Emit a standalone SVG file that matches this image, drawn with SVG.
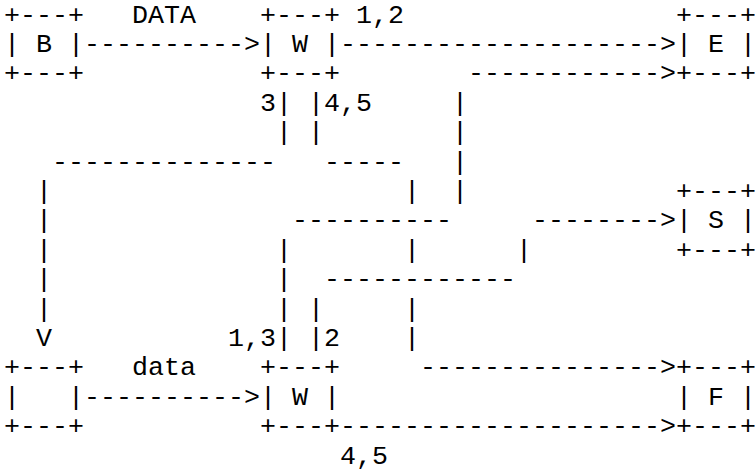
<svg xmlns="http://www.w3.org/2000/svg" width="755" height="473" viewBox="0 0 755 473" xml:space="preserve">
<style>
text{font-family:"Liberation Mono","DejaVu Sans Mono",monospace;font-size:26.67px;fill:#000;white-space:pre}
</style>
<rect x="0" y="0" width="755" height="473" fill="#fff"/>
<g id="node-B">
<text x="4" y="22.5">+---+</text>
<text x="4" y="51.9">| B |</text>
<text x="4" y="81.3">+---+</text>
</g>
<g id="node-W1">
<text x="260" y="22.5">+---+</text>
<text x="260" y="51.9">| W |</text>
<text x="260" y="81.3">+---+</text>
</g>
<g id="node-E">
<text x="676" y="22.5">+---+</text>
<text x="676" y="51.9">| E |</text>
<text x="676" y="81.3">+---+</text>
</g>
<g id="node-S">
<text x="676" y="198.9">+---+</text>
<text x="676" y="228.3">| S |</text>
<text x="676" y="257.7">+---+</text>
</g>
<g id="node-V">
<text x="4" y="375.3">+---+</text>
<text x="4" y="404.7">|   |</text>
<text x="4" y="434.1">+---+</text>
</g>
<g id="node-W2">
<text x="260" y="375.3">+---+</text>
<text x="260" y="404.7">| W |</text>
<text x="260" y="434.1">+---+</text>
</g>
<g id="node-F">
<text x="676" y="375.3">+---+</text>
<text x="676" y="404.7">| F |</text>
<text x="676" y="434.1">+---+</text>
</g>
<g id="connectors">
<text x="132" y="22.5">DATA</text>
<text x="356" y="22.5">1,2</text>
<text x="84" y="51.9">----------&gt;</text>
<text x="340" y="51.9">--------------------&gt;</text>
<text x="468" y="81.3">------------&gt;</text>
<text x="260" y="110.7">3| |4,5</text>
<text x="452" y="110.7">|</text>
<text x="276" y="140.1">| |</text>
<text x="452" y="140.1">|</text>
<text x="52" y="169.5">--------------</text>
<text x="324" y="169.5">-----</text>
<text x="452" y="169.5">|</text>
<text x="36" y="198.9">|</text>
<text x="404" y="198.9">|</text>
<text x="452" y="198.9">|</text>
<text x="36" y="228.3">|</text>
<text x="292" y="228.3">----------</text>
<text x="532" y="228.3">--------&gt;</text>
<text x="36" y="257.7">|</text>
<text x="276" y="257.7">|</text>
<text x="404" y="257.7">|</text>
<text x="516" y="257.7">|</text>
<text x="36" y="287.1">|</text>
<text x="276" y="287.1">|</text>
<text x="324" y="287.1">------------</text>
<text x="36" y="316.5">|</text>
<text x="276" y="316.5">| |</text>
<text x="404" y="316.5">|</text>
<text x="36" y="345.9">V</text>
<text x="228" y="345.9">1,3| |2</text>
<text x="404" y="345.9">|</text>
<text x="132" y="375.3">data</text>
<text x="420" y="375.3">---------------&gt;</text>
<text x="84" y="404.7">----------&gt;</text>
<text x="340" y="434.1">--------------------&gt;</text>
<text x="340" y="463.5">4,5</text>
</g>
</svg>
